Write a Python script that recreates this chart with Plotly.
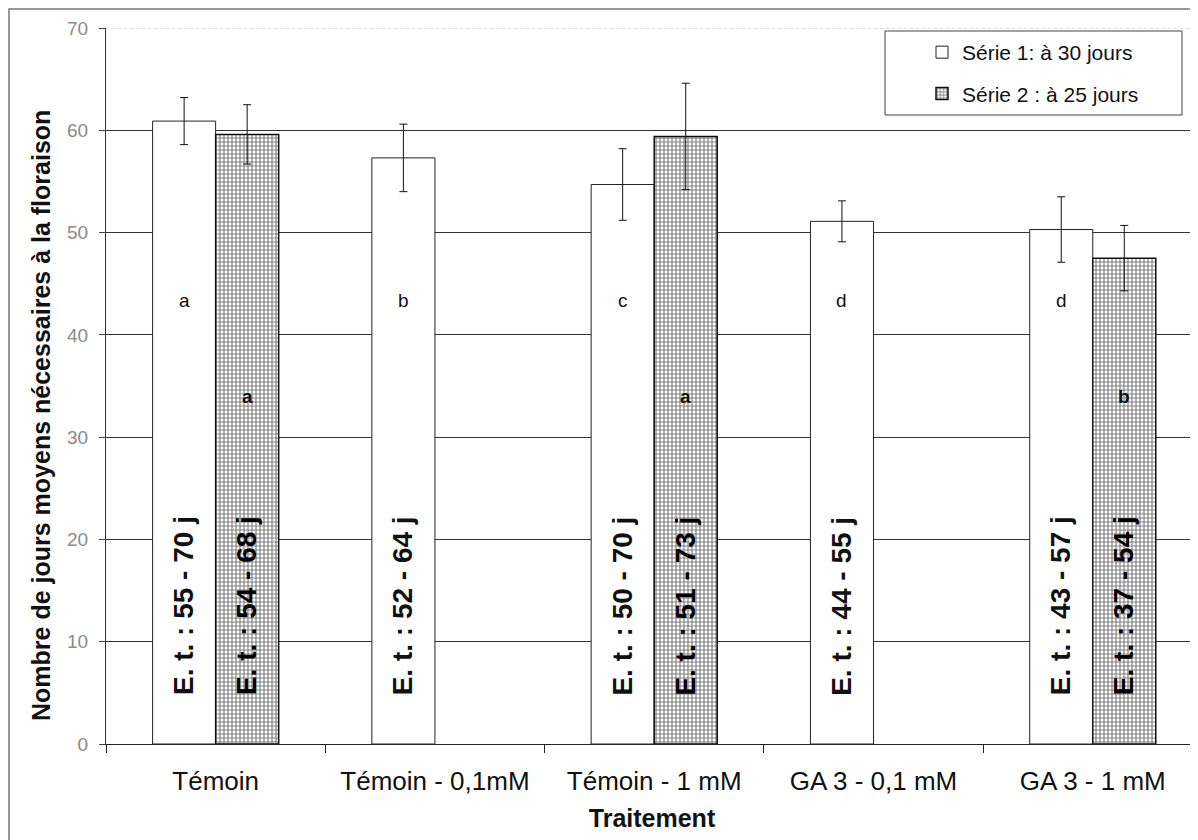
import plotly.graph_objects as go

# ---------------- data ----------------
categories = ["Témoin", "Témoin - 0,1mM", "Témoin - 1 mM", "GA 3 - 0,1 mM", "GA 3 - 1 mM"]
serie1_name = "Série 1: à 30 jours"
serie2_name = "Série 2 : à 25 jours"
serie1_vals = [60.9, 57.3, 54.7, 51.1, 50.3]
serie1_err = [2.3, 3.3, 3.5, 2.0, 3.2]
serie2_vals = [59.6, None, 59.4, None, 47.5]
serie2_err = [2.9, 0, 5.2, 0, 3.2]
serie1_letters = ["a", "b", "c", "d", "d"]
serie2_letters = ["a", None, "a", None, "b"]
serie1_ranges = ["E. t. : 55 - 70 j", "E. t. : 52 - 64 j", "E. t. : 50 - 70 j",
                 "E. t. : 44 - 55 j", "E. t. : 43 - 57 j"]
serie2_ranges = ["E. t. : 54 - 68 j", None, "E. t. : 51 - 73 j", None, "E. t. : 37 - 54 j"]
letter_y1 = 43.4
letter_y2 = 34.0
range_text_y = 13.5
y_ticks = [0, 10, 20, 30, 40, 50, 60, 70]

# ---------------- layout params ----------------
OFF = 8  # page body margin
W, H = 1190, 832
ML, MR, MT, MB = 98, 0, 20, 96
XRANGE = [-0.5, 4.48]
BARGAP = 0.425
FONT = "Liberation Sans, Arial, sans-serif"

cat_px = (W - ML - MR) / (XRANGE[1] - XRANGE[0])
bar_px = cat_px * (1 - BARGAP) / 2
shift = bar_px / 2


def px_x(p):
    return (p - OFF - ML) / (W - ML - MR)


def px_y(p):
    return (H - MB - (p - OFF)) / (H - MT - MB)


fig = go.Figure()
fig.add_trace(go.Bar(
    x=categories, y=serie1_vals, name=serie1_name, legendgroup="s1",
    marker=dict(color="white", line=dict(color="#222", width=1)),
    error_y=dict(type="data", array=serie1_err, color="#111", thickness=1, width=4),
))
fig.add_trace(go.Bar(
    x=categories, y=serie2_vals, name=serie2_name, legendgroup="s2",
    marker=dict(color="white", line=dict(color="#111", width=1.5),
                pattern=dict(shape="+", fgcolor="#000", bgcolor="white", size=4, solidity=0.5)),
    error_y=dict(type="data", array=serie2_err, color="#111", thickness=1, width=4),
))

annotations = []
for cat, l1, l2, r1, r2 in zip(categories, serie1_letters, serie2_letters, serie1_ranges, serie2_ranges):
    annotations.append(dict(x=cat, y=letter_y1, xref="x", yref="y", text=l1, showarrow=False,
                            xshift=-shift, font=dict(size=19, color="#111", family=FONT)))
    annotations.append(dict(x=cat, y=range_text_y, xref="x", yref="y", text="<b>%s</b>" % r1,
                            showarrow=False, textangle=-90, xshift=-shift,
                            font=dict(size=28, color="#111", family=FONT)))
    if l2:
        annotations.append(dict(x=cat, y=letter_y2, xref="x", yref="y", text="<b>%s</b>" % l2,
                                showarrow=False, xshift=shift,
                                font=dict(size=19, color="#111", family=FONT)))
    if r2:
        annotations.append(dict(x=cat, y=range_text_y, xref="x", yref="y", text="<b>%s</b>" % r2,
                                showarrow=False, textangle=-90, xshift=shift,
                                font=dict(size=28, color="#000", family=FONT)))

annotations.append(dict(
    text="<b>Nombre de jours moyens nécessaires à la floraison</b>",
    xref="paper", yref="paper", x=px_x(41), y=px_y(416), showarrow=False,
    textangle=-90, xanchor="center", yanchor="middle",
    font=dict(size=25, color="#111", family=FONT)))

shapes = [
    # outer chart frame
    dict(type="rect", xref="paper", yref="paper", x0=px_x(9), x1=1.05, y0=-0.3, y1=px_y(9),
         line=dict(color="#777", width=1.5), layer="below"),
    # faint top gridline
    dict(type="line", xref="paper", yref="y", x0=0, x1=1, y0=70, y1=70,
         line=dict(color="white", width=3)),
    dict(type="line", xref="paper", yref="y", x0=0, x1=1, y0=70, y1=70,
         line=dict(color="#bbb", width=1, dash="dot")),
    # legend box
    dict(type="rect", xref="paper", yref="paper", x0=px_x(885), x1=px_x(1182),
         y0=px_y(115), y1=px_y(31), line=dict(color="#444", width=1)),
]

fig.update_layout(
    width=W, height=H,
    margin=dict(l=ML, r=MR, t=MT, b=MB, pad=0),
    paper_bgcolor="white", plot_bgcolor="white",
    barmode="group", bargap=BARGAP, bargroupgap=0,
    font=dict(family=FONT, color="#111"),
    showlegend=True,
    legend=dict(x=px_x(922), y=px_y(32), xanchor="left", yanchor="top",
                bgcolor="rgba(0,0,0,0)", borderwidth=0,
                font=dict(size=21, color="#111", family=FONT),
                traceorder="grouped", tracegroupgap=11),
    xaxis=dict(type="category", range=XRANGE, tickson="boundaries", ticks="outside",
               ticklen=8, tickcolor="#222", showline=True, linecolor="#222", linewidth=1,
               showgrid=False, tickfont=dict(size=26, color="#111", family=FONT),
               ticklabelstandoff=14,
               title=dict(text="<b>Traitement</b>", standoff=14,
                          font=dict(size=25, color="#111", family=FONT))),
    yaxis=dict(range=[0, 70], tickvals=y_ticks, ticks="outside", ticklen=6, tickcolor="#444",
               showline=True, linecolor="#333", linewidth=1, showgrid=True,
               gridcolor="#333", gridwidth=1, zeroline=False,
               tickfont=dict(size=19, color="#8a8a8a", family=FONT), ticklabelstandoff=7),
    annotations=annotations,
    shapes=shapes,
)

fig.write_html("out.html")
